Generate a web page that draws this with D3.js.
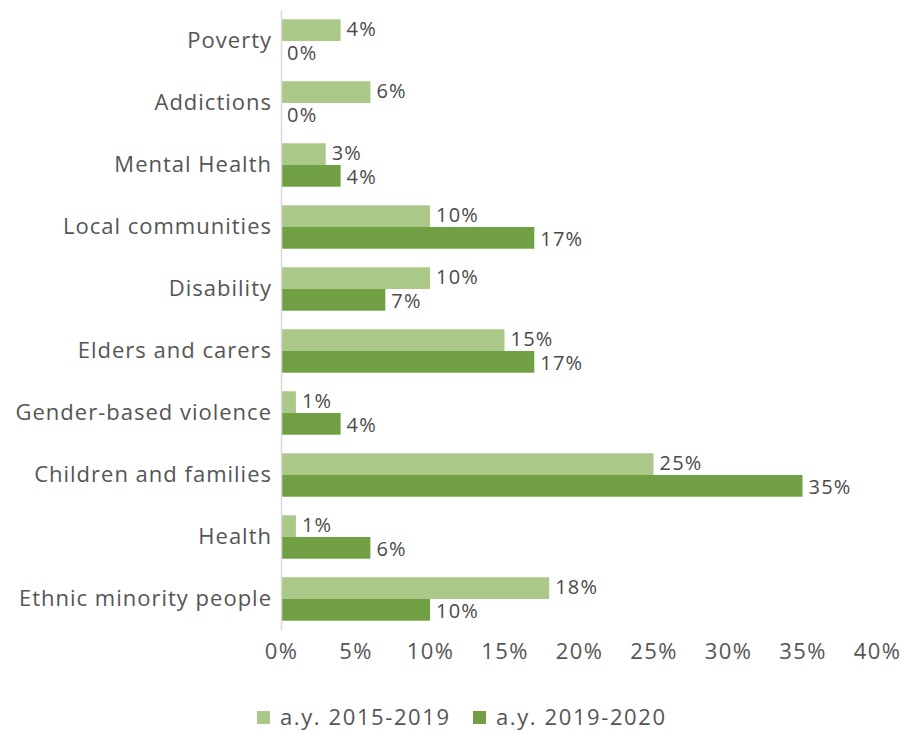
<!DOCTYPE html>
<html>
<head>
<meta charset="utf-8">
<script src="https://cdn.jsdelivr.net/npm/d3@7"></script>
<style>
  body { margin: 0; background: #fff; }
  svg text { font-family: "Open Sans", sans-serif; }
</style>
</head>
<body>
<div class="canvas"></div>
<script>
const categories = [
  "Poverty", "Addictions", "Mental Health", "Local communities", "Disability",
  "Elders and carers", "Gender-based violence", "Children and families",
  "Health", "Ethnic minority people"
];
const seriesNames = ["a.y. 2015-2019", "a.y. 2019-2020"];
const values2015 = [4, 6, 3, 10, 10, 15, 1, 25, 1, 18];
const values2019 = [0, 0, 4, 17, 7, 17, 4, 35, 6, 10];
const xTicks = [0, 5, 10, 15, 20, 25, 30, 35, 40];
const colors = ["#aac887", "#70a043"];

const dims = { width: 904, height: 731 };
const margin = { top: 10, left: 281, right: 27, bottom: 101 };

const svg = d3
  .select(".canvas")
  .append("svg")
  .attr("width", dims.width)
  .attr("height", dims.height);

const x = d3.scaleLinear().domain([0, 40]).range([margin.left, dims.width - margin.right]);
const y = d3
  .scaleBand()
  .domain(categories)
  .range([margin.top, dims.height - margin.bottom])
  .paddingInner(0.3)
  .paddingOuter(0.15);
const ySub = d3.scaleBand().domain([0, 1]).range([0, y.bandwidth()]);

const rows = categories.map((c, i) => ({ cat: c, vals: [values2015[i], values2019[i]] }));

// bars
const groups = svg
  .selectAll("g.row")
  .data(rows)
  .enter()
  .append("g")
  .attr("class", "row")
  .attr("transform", (d) => `translate(0, ${y(d.cat)})`);

groups
  .selectAll("rect")
  .data((d) => d.vals)
  .enter()
  .append("rect")
  .attr("x", x(0))
  .attr("y", (d, i) => ySub(i))
  .attr("width", (d) => x(d) - x(0))
  .attr("height", ySub.bandwidth())
  .attr("fill", (d, i) => colors[i]);

// value labels
groups
  .selectAll("text.val")
  .data((d) => d.vals)
  .enter()
  .append("text")
  .attr("class", "val")
  .attr("x", (d) => x(d) + 6)
  .attr("y", (d, i) => ySub(i) + ySub.bandwidth() / 2 + (i === 0 ? -1 : 1))
  .attr("dy", "0.35em")
  .attr("font-size", 20)
  .attr("letter-spacing", 1.2)
  .attr("fill", "#4a4a4a")
  .text((d) => d + "%");

// category axis
const yAxis = svg
  .append("g")
  .attr("transform", `translate(${x(0)}, 0)`)
  .call(d3.axisLeft(y).tickSize(0).tickPadding(9));
yAxis.select(".domain").attr("stroke", "#d9d9d9").attr("stroke-width", 1.5);
yAxis.selectAll("text").attr("font-size", 22).attr("letter-spacing", 1).attr("fill", "#555")
  .attr("font-family", "'Open Sans', sans-serif");

// value axis
const xAxis = svg
  .append("g")
  .attr("transform", `translate(0, ${dims.height - margin.bottom + 10})`)
  .call(d3.axisBottom(x).tickValues(xTicks).tickFormat((d) => d + "%").tickSize(0));
xAxis.select(".domain").remove();
xAxis.selectAll("text").attr("font-size", 22).attr("letter-spacing", 1.4).attr("fill", "#555")
  .attr("font-family", "'Open Sans', sans-serif");

// legend
const legend = svg.append("g").attr("transform", "translate(257, 717)");
const items = legend
  .selectAll("g")
  .data(seriesNames)
  .enter()
  .append("g")
  .attr("transform", (d, i) => `translate(${i * 216}, 0)`);
items
  .append("rect")
  .attr("x", 0)
  .attr("y", -6)
  .attr("width", 13)
  .attr("height", 13)
  .attr("fill", (d, i) => colors[i]);
items
  .append("text")
  .attr("x", 23)
  .attr("dy", "0.35em")
  .attr("font-size", 22)
  .attr("letter-spacing", 1.6)
  .attr("fill", "#555")
  .text((d) => d);
</script>
</body>
</html>
